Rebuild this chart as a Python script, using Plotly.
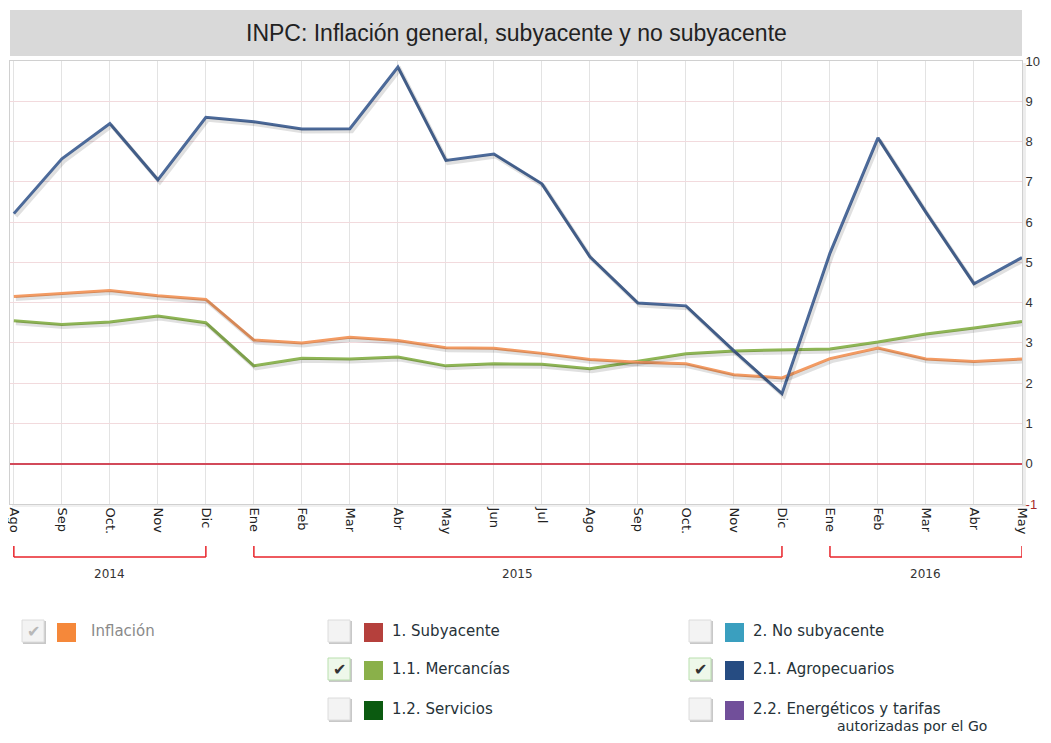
import plotly.graph_objects as go

# ---------------- data ----------------
months = ["Ago", "Sep", "Oct.", "Nov", "Dic", "Ene", "Feb", "Mar", "Abr", "May", "Jun",
          "Jul", "Ago", "Sep", "Oct.", "Nov", "Dic", "Ene", "Feb", "Mar", "Abr", "May"]
inflacion = [4.15, 4.22, 4.30, 4.17, 4.08, 3.07, 3.00, 3.14, 3.06, 2.88, 2.87,
             2.74, 2.59, 2.52, 2.48, 2.21, 2.13, 2.61, 2.87, 2.60, 2.54, 2.60]
mercancias = [3.55, 3.46, 3.52, 3.67, 3.50, 2.43, 2.62, 2.60, 2.65, 2.43, 2.48,
              2.47, 2.36, 2.54, 2.73, 2.80, 2.83, 2.85, 3.02, 3.22, 3.37, 3.53]
agropecuarios = [6.21, 7.57, 8.45, 7.05, 8.60, 8.49, 8.31, 8.32, 9.85, 7.53, 7.69,
                 6.95, 5.14, 3.99, 3.92, 2.80, 1.74, 5.23, 8.09, 6.24, 4.47, 5.12]
years = ["2014", "2015", "2016"]
year_spans = [(0, 4), (5, 16), (17, 21)]
y_ticks = [-1, 0, 1, 2, 3, 4, 5, 6, 7, 8, 9, 10]

legend_items = [
    # (label, color, checked, col, row, style)
    ("Inflación", "#f5883a", True, 0, 0, "disabled"),
    ("1. Subyacente", "#b5403c", False, 1, 0, ""),
    ("1.1. Mercancías", "#8ab04a", True, 1, 1, ""),
    ("1.2. Servicios", "#0b5a10", False, 1, 2, ""),
    ("2. No subyacente", "#3a9fbf", False, 2, 0, ""),
    ("2.1. Agropecuarios", "#264c82", True, 2, 1, ""),
    ("2.2. Energéticos y tarifas", "#714f9a", False, 2, 2, ""),
]

# ---------------- geometry helpers (page pixels) ----------------
OFF = 8                          # default body margin of the html page
PW, PH = 1051, 743
W, H = PW - 2 * OFF, PH - 2 * OFF  # page fits the window exactly
L, R, T, B = 10, 1022, 61, 504
XR = [-0.08, 21.0]
YR = [-1, 10]


def px(xp):
    return (xp - L) / (R - L)


def py(yp):
    return (B - yp) / (B - T)


x = list(range(len(months)))

fig = go.Figure()

series = [
    ("1.1. Mercancías", mercancias, "#8fb656"),
    ("Inflación", inflacion, "#f39b63"),
    ("2.1. Agropecuarios", agropecuarios, "#4c6a9a"),
]

# soft shadows on offset overlay axes
for name, vals, col in series:
    fig.add_trace(go.Scatter(x=x, y=vals, mode="lines", xaxis="x2", yaxis="y2",
                             line=dict(color="rgba(0,0,0,0.12)", width=4),
                             hoverinfo="skip", showlegend=False))

for name, vals, col in series:
    fig.add_trace(go.Scatter(x=x, y=vals, mode="lines", name=name,
                             line=dict(color=col, width=3), showlegend=False))

dx = 2.0 / ((R - L) / (XR[1] - XR[0]))
dy = 2.5 / ((B - T) / (YR[1] - YR[0]))

shapes = []
annotations = []

# title box
shapes.append(dict(type="rect", xref="paper", yref="paper", x0=px(10), x1=px(1022),
                   y0=py(56), y1=py(10), fillcolor="#d9d9d9", line=dict(width=0),
                   layer="below"))
annotations.append(dict(text="INPC: Inflación general, subyacente y no subyacente",
                        xref="paper", yref="paper", x=0.5, y=py(33), showarrow=False,
                        font=dict(family="Liberation Sans, Arial", size=23, color="#222"),
                        xanchor="center", yanchor="middle"))

# plot shadow at right / bottom edge
shapes.append(dict(type="rect", xref="paper", yref="paper", x0=px(1022), x1=px(1026),
                   y0=py(506), y1=py(63), fillcolor="rgba(0,0,0,0.07)",
                   line=dict(width=0), layer="below"))
shapes.append(dict(type="rect", xref="paper", yref="paper", x0=px(12), x1=px(1026),
                   y0=py(507), y1=py(504), fillcolor="rgba(0,0,0,0.06)",
                   line=dict(width=0), layer="below"))

# year brackets
for yr, (a, b) in zip(years, year_spans):
    col = "#e8232a"
    shapes.append(dict(type="line", xref="x", yref="paper", x0=a, x1=a,
                       y0=py(546), y1=py(557), line=dict(color=col, width=1.5)))
    shapes.append(dict(type="line", xref="x", yref="paper", x0=b, x1=b,
                       y0=py(546), y1=py(557), line=dict(color=col, width=1.5)))
    shapes.append(dict(type="line", xref="x", yref="paper", x0=a, x1=b,
                       y0=py(557), y1=py(557), line=dict(color=col, width=1.5)))
    annotations.append(dict(text=yr, xref="x", yref="paper", x=(a + b) / 2, y=py(574),
                            showarrow=False, xanchor="center", yanchor="middle",
                            font=dict(family="DejaVu Sans", size=12, color="#333")))

# legend (custom)
col_x = [22, 328, 689]
row_y = [631, 669, 709]
for label, color, checked, c, r, style in legend_items:
    cx = col_x[c]
    cy = row_y[r]
    shapes.append(dict(type="rect", xref="paper", yref="paper",
                       x0=px(cx + 1), x1=px(cx + 24), y0=py(cy + 13), y1=py(cy - 10),
                       fillcolor="#c8c8c8", line=dict(width=0)))
    if checked and style != "disabled":
        fill, border = "#eef8ea", "#b9dfae"
    else:
        fill, border = "#f3f3f3", "#dcdcdc"
    shapes.append(dict(type="rect", xref="paper", yref="paper",
                       x0=px(cx), x1=px(cx + 22), y0=py(cy + 11), y1=py(cy - 11),
                       fillcolor=fill, line=dict(color=border, width=1)))
    if checked:
        annotations.append(dict(text="✔", xref="paper", yref="paper",
                                x=px(cx + 11), y=py(cy), showarrow=False,
                                xanchor="center", yanchor="middle",
                                font=dict(family="DejaVu Sans", size=16,
                                          color="#b8b8b8" if style == "disabled" else "#333")))
    sq_x = cx + 35 if c == 0 else cx + 36
    shapes.append(dict(type="rect", xref="paper", yref="paper",
                       x0=px(sq_x), x1=px(sq_x + 19), y0=py(cy + 11), y1=py(cy - 8),
                       fillcolor=color, line=dict(width=0)))
    tx = 89 if c == 0 else sq_x + 26
    annotations.append(dict(text=label, xref="paper", yref="paper", x=px(tx), y=py(cy),
                            showarrow=False, xanchor="left", yanchor="middle",
                            font=dict(family="DejaVu Sans", size=15,
                                      color="#8a8a8a" if style == "disabled" else "#263238")))

annotations.append(dict(text="autorizadas por el Go", xref="paper", yref="paper",
                        x=px(835), y=py(726), showarrow=False, xanchor="left",
                        yanchor="middle",
                        font=dict(family="DejaVu Sans", size=14, color="#263238")))

ytext = ['<span style="color:#a52a2a">-1</span>' if v == -1 else str(v) for v in y_ticks]

fig.update_layout(
    width=W, height=H,
    margin=dict(l=L - OFF, r=(PW - OFF) - R, t=T - OFF, b=(PH - OFF) - B),
    paper_bgcolor="white", plot_bgcolor="white",
    shapes=shapes, annotations=annotations,
    showlegend=False,
    xaxis=dict(range=XR, tickmode="array", tickvals=x, ticktext=months,
               tickangle=90, showgrid=True, gridcolor="#e3e3e3", gridwidth=1,
               zeroline=False, showline=True, linecolor="#d0d0d0", mirror=True,
               ticks="", ticklabeloverflow="allow", automargin=False,
               tickfont=dict(family="DejaVu Sans", size=13, color="#222"),
               fixedrange=True),
    yaxis=dict(range=YR, side="right", tickmode="array", tickvals=y_ticks,
               ticktext=ytext, showgrid=True, gridcolor="#f2dadd", gridwidth=1,
               zeroline=True, zerolinecolor="#d24a5a", zerolinewidth=1.5,
               showline=True, linecolor="#d0d0d0", mirror=True, ticks="",
               ticklabelstandoff=0, ticklabeloverflow="allow", automargin=False,
               tickfont=dict(family="Liberation Sans, Arial", size=13, color="#333"),
               fixedrange=True),
    xaxis2=dict(range=[XR[0] - dx, XR[1] - dx], overlaying="x", visible=False,
                fixedrange=True),
    yaxis2=dict(range=[YR[0] + dy, YR[1] + dy], overlaying="y", visible=False,
                fixedrange=True),
)

fig.write_html("out.html")
